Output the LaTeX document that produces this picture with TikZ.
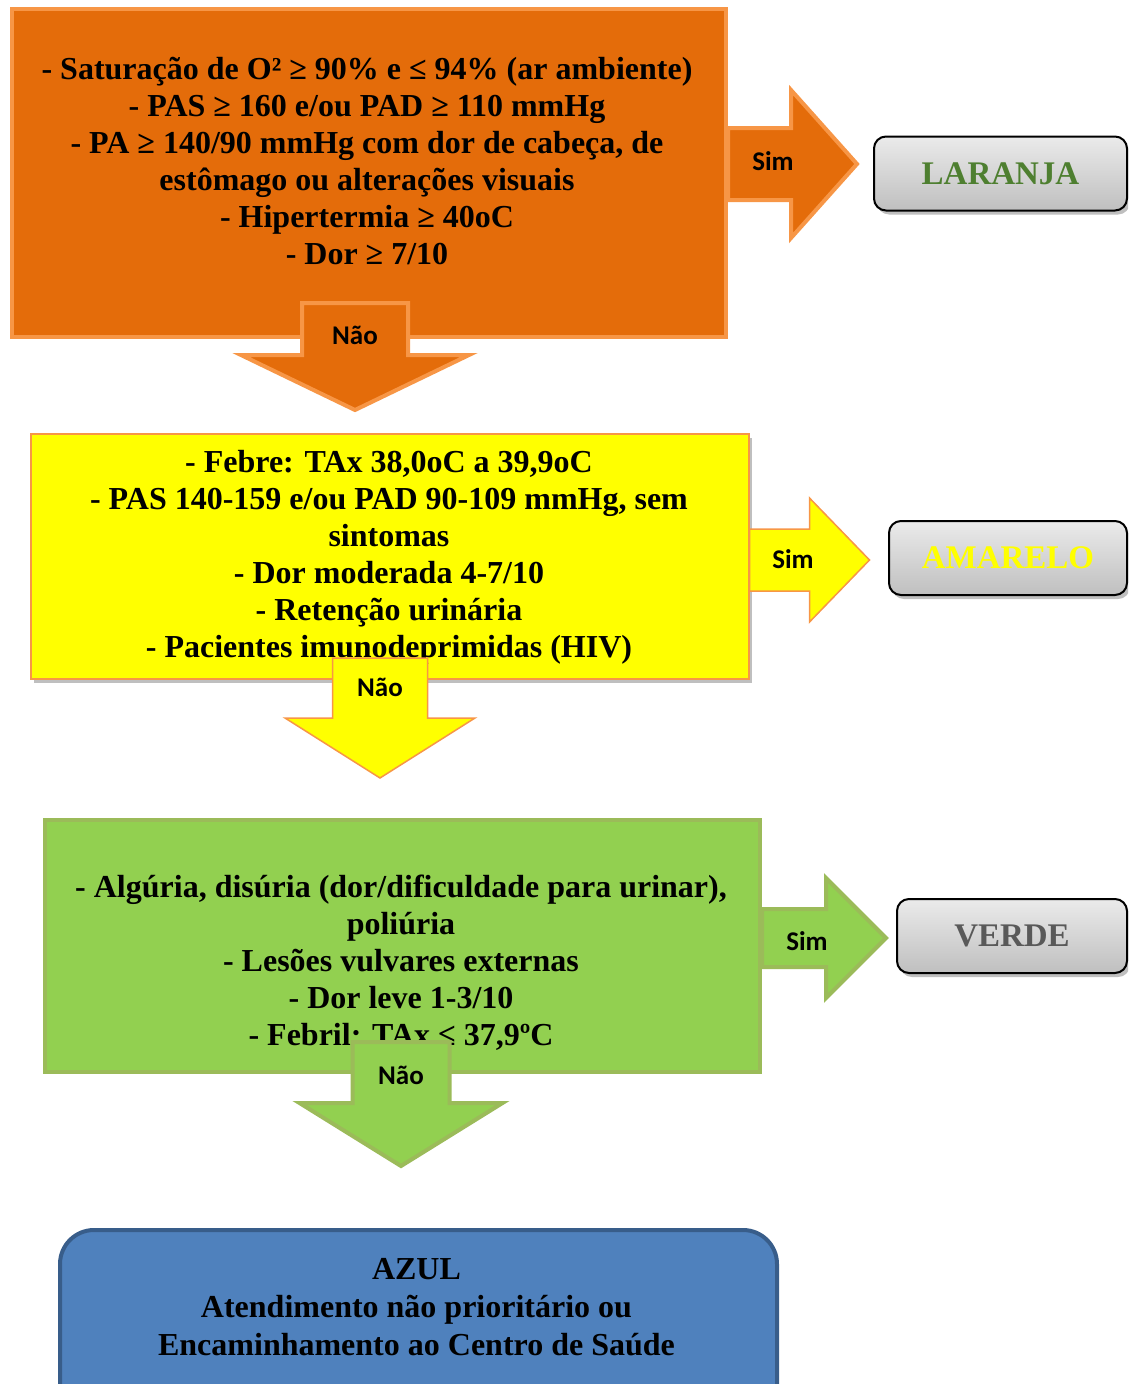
\documentclass[tikz,border=0pt]{standalone}
\usepackage{fontspec}
\usetikzlibrary{shadows,calc}
\newfontfamily\critfont{Liberation Serif}
\newfontfamily\tagfont{Liberation Serif}
\newfontfamily\labfont{Carlito}

\definecolor{ofill}{HTML}{E46C0A}
\definecolor{oline}{HTML}{F79646}
\definecolor{yfill}{HTML}{FFFF00}
\definecolor{gfill}{HTML}{92D050}
\definecolor{gline}{HTML}{9BBB59}
\definecolor{bfill}{HTML}{4F81BD}
\definecolor{bline}{HTML}{385D8A}
\definecolor{lgreen}{HTML}{4E7F30}
\definecolor{vgrey}{HTML}{595959}

\tikzset{
  crit/.style={font=\critfont\bfseries\fontsize{32}{37}\selectfont, align=center, inner sep=0pt},
  lbl/.style={font=\labfont\bfseries\fontsize{27}{30}\selectfont, inner sep=0pt},
  softshadow/.style={drop shadow={shadow xshift=3pt, shadow yshift=-4pt, opacity=0.25, fill=black}},
  tagbox/.style={draw=black, line width=2pt, rounded corners=12pt, top color=black!8, bottom color=black!25,
                 softshadow, minimum height=74pt, inner sep=0pt,
                 font=\tagfont\bfseries\fontsize{33}{36}\selectfont},
  obox/.style={draw=oline, fill=ofill, line width=4pt, anchor=north west, inner sep=0pt},
  ybox/.style={draw=oline, fill=yfill, line width=1.5pt, anchor=north west, inner sep=0pt, softshadow},
  gbox/.style={draw=gline, fill=gfill, line width=4pt, anchor=north west, inner sep=0pt},
  oarrow/.style={draw=oline, fill=ofill, line width=4pt, line join=miter},
  yarrow/.style={draw=oline, fill=yfill, line width=1.5pt, line join=miter, softshadow},
  garrow/.style={draw=gline, fill=gfill, line width=4pt, line join=miter},
  % block arrow pointing right: shaft half-width, head half-height, shaft length, head length
  pics/rblock/.style n args={4}{code={
    \path[pic actions] (0,-#1) -- (#3,-#1) -- (#3,-#2) -- (#3+#4,0) -- (#3,#2) -- (#3,#1) -- (0,#1) -- cycle;
  }},
  % block arrow pointing down
  pics/dblock/.style n args={4}{code={
    \path[pic actions] (-#1,0) -- (-#1,#3) -- (-#2,#3) -- (0,#3+#4) -- (#2,#3) -- (#1,#3) -- (#1,0) -- cycle;
  }},
}

\begin{document}
\begin{tikzpicture}[x=1pt,y=-1pt]
\useasboundingbox (0,0) rectangle (1128,1384);
\clip (0,0) rectangle (1128,1384);

% ---- orange level ----
\node[obox, minimum width=714pt, minimum height=328pt] (c1) at (10,7) {};
\node[crit] (t1) at (367,161) {- Saturação de O² ≥ 90\% e ≤ 94\% (ar ambiente)\\
- PAS ≥ 160 e/ou PAD ≥ 110 mmHg\\
- PA ≥ 140/90 mmHg com dor de cabeça, de\\
estômago ou alterações visuais\\
- Hipertermia ≥ 40oC\\
- Dor ≥ 7/10};
\node[tagbox, minimum width=253pt, text=lgreen] (r1) at (1000.5,173.5) {LARANJA};
\coordinate (o1) at (c1.east |- 0,164);
\pic[oarrow] at (o1) {rblock={36}{74}{63}{66}};
\node[lbl] (s1) at (773,161) {Sim};

% ---- yellow level ----
\node[ybox, minimum width=718pt, minimum height=245pt] (c2) at (30,433) {};
\node[crit] (t2) at (389,557) {- Febre: TAx 38,0oC a 39,9oC\\
- PAS 140-159 e/ou PAD 90-109 mmHg, sem\\
sintomas\\
- Dor moderada 4-7/10\\
- Retenção urinária\\
- Pacientes imunodeprimidas (HIV)};
\node[tagbox, minimum width=238pt, text=yfill] (r2) at (1008,558) {AMARELO};
\coordinate (o2) at (c2.east |- 0,560);
\pic[yarrow] at (o2) {rblock={31}{62}{60}{60}};
\node[lbl] (s2) at (793,559) {Sim};

% orange -> yellow
\coordinate (d1) at (355,303);
\pic[oarrow] at (d1) {dblock={53}{114}{52}{55}};
\node[lbl] (n1) at (355,335) {Não};

% ---- green level ----
\node[gbox, minimum width=715pt, minimum height=252pt] (c3) at (43,818) {};
\node[crit] (t3) at (401,963) {- Algúria, disúria (dor/dificuldade para urinar),\\
poliúria\\
- Lesões vulvares externas\\
- Dor leve 1-3/10\\
- Febril: TAx ≤ 37,9ºC};
\node[tagbox, minimum width=230pt, text=vgrey] (r3) at (1012,936) {VERDE};
\coordinate (o3) at (c3.east |- 0,938);
\pic[garrow] at (o3) {rblock={29}{60}{64}{60}};
\node[lbl] (s3) at (807,941) {Sim};

% yellow -> green
\coordinate (d2) at (380,658);
\pic[yarrow] at (d2) {dblock={47.5}{95}{60}{60}};
\node[lbl] (n2) at (380,687) {Não};

% ---- blue level ----
\node[draw=bline, fill=bfill, line width=4pt, rounded corners=34pt, anchor=north west,
      minimum width=717pt, minimum height=200pt, inner sep=0pt] (c4) at (58,1228) {};
\node[crit, font=\critfont\bfseries\fontsize{32}{38}\selectfont] (t4) at (416.5,1307) {AZUL\\
Atendimento não prioritário ou\\
Encaminhamento ao Centro de Saúde};

% green -> blue
\coordinate (d3) at (401,1042);
\pic[garrow] at (d3) {dblock={48.5}{101.5}{61}{63}};
\node[lbl] (n3) at (401,1075) {Não};
\end{tikzpicture}
\end{document}
